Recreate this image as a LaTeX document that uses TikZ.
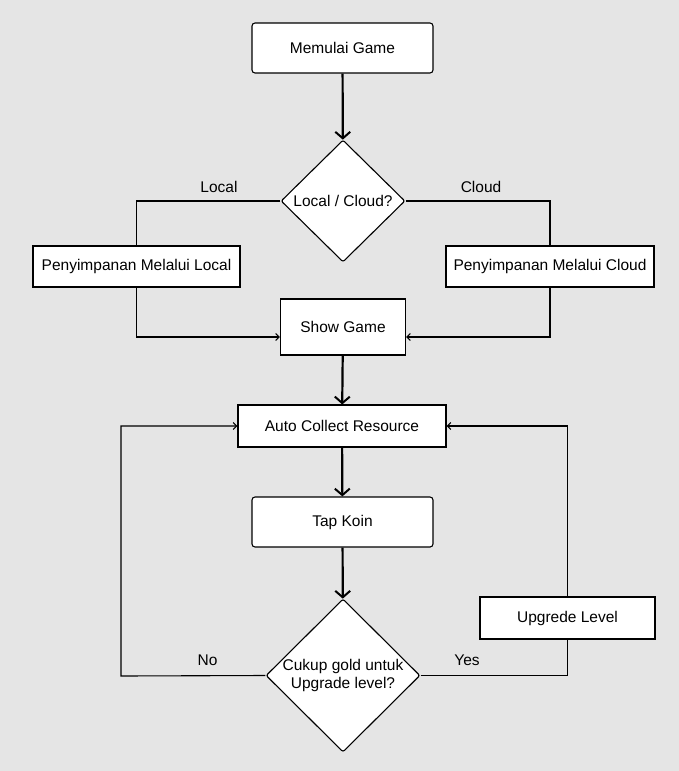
\documentclass[tikz,border=0pt]{standalone}
\usepackage{fontspec}
\setmainfont{Liberation Sans}
\usetikzlibrary{shapes.geometric,arrows.meta}
\definecolor{bggray}{HTML}{E5E5E5}
\tikzset{
  stepbox/.style={draw, fill=white, line width=1.1pt, inner sep=0pt, align=center, font=\fontsize{15.5}{18}\selectfont},
  roundbox/.style={stepbox, rounded corners=3pt},
  decision/.style={stepbox, diamond, aspect=1, rounded corners=2pt},
  flow/.style={line width=2.2pt, -{Straight Barb[length=6.5pt,width=15pt,line width=2pt]}},
  link/.style={line width=1.1pt},
  back/.style={link, -{Straight Barb[length=3.5pt,width=7pt]}},
  tag/.style={font=\fontsize{15.5}{18}\selectfont}
}
\begin{document}
\begin{tikzpicture}[x=1pt, y=-1pt]
      \fill[bggray] (0,0) rectangle (679,771);
      \useasboundingbox (0,0) rectangle (679,771);

      \node[roundbox, minimum width=181pt, minimum height=50pt, at={(342.5,48)}] (start) {Memulai Game};
      \node[decision, minimum width=124pt, minimum height=122pt, at={(343,201)}] (where) {Local / Cloud?};
      \node[stepbox, minimum width=207pt, minimum height=41pt, at={(136.5,266.5)}] (local) {Penyimpanan Melalui Local};
      \node[stepbox, minimum width=208pt, minimum height=41pt, at={(550,266.5)}] (cloud) {Penyimpanan Melalui Cloud};
      \node[stepbox, minimum width=125pt, minimum height=56pt, at={(343,327)}] (show) {Show Game};
      \node[stepbox, minimum width=208pt, minimum height=42pt, at={(342,426)}] (collect) {Auto Collect Resource};
      \node[roundbox, minimum width=181pt, minimum height=50pt, at={(342.5,522)}] (tap) {Tap Koin};
      \node[decision, minimum width=154pt, minimum height=153pt, at={(343,675.5)}] (enough) {Cukup gold untuk\\Upgrade level?};
      \node[stepbox, minimum width=175pt, minimum height=42pt, at={(567.5,618)}] (upgrade) {Upgrede Level};

      \coordinate (localin) at ([yshift=-10pt]show.west);
      \coordinate (cloudin) at ([yshift=-10pt]show.east);
      \coordinate (noturn) at (121,676);

      \draw[flow] (start) -- (where);
      \draw[link] (where.west) -| (local.north);
      \draw[link] (where.east) -| (cloud.north);
      \draw[back] (local.south) |- (localin);
      \draw[back] (cloud.south) |- (cloudin);
      \draw[flow] (show) -- (collect);
      \draw[flow] (collect) -- (tap);
      \draw[flow] (tap) -- (enough);
      \draw[back] (enough.west) -- (noturn) |- (collect.west);
      \draw[link] (enough.east) -| (upgrade.south);
      \draw[back] (upgrade.north) |- (collect.east);

      \node[tag, at={(219,187)}] (lbllocal) {Local};
      \node[tag, at={(481,187)}] (lblcloud) {Cloud};
      \node[tag, at={(207.5,660)}] (lblno) {No};
      \node[tag, at={(467,660)}] (lblyes) {Yes};
    \end{tikzpicture}
\end{document}
